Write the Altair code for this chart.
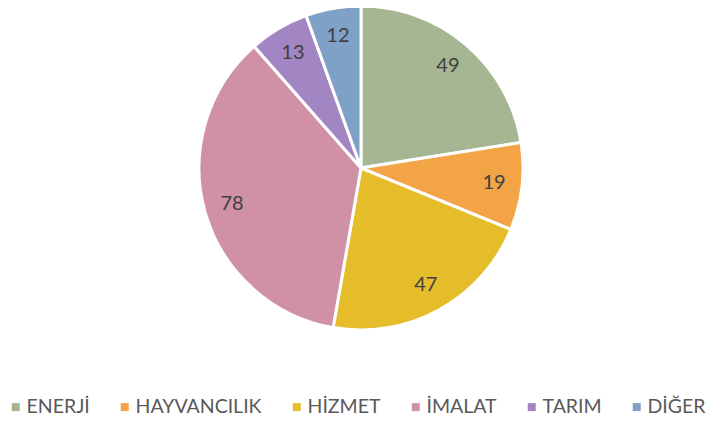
import altair as alt
import pandas as pd

categories = ["ENERJİ", "HAYVANCILIK", "HİZMET", "İMALAT", "TARIM", "DİĞER"]
values = [49, 19, 47, 78, 13, 12]
colors = ["#a6b693", "#f2a447", "#e5bd2b", "#d091a6", "#a285c3", "#7fa0c7"]

df = pd.DataFrame({"cat": categories, "val": values, "idx": list(range(len(values)))})

CX, CY, R = 353, 160, 162

base = alt.Chart(df).encode(
    theta=alt.Theta("val:Q", stack=True),
    order=alt.Order("idx:Q", sort="ascending"),
)

pie = base.mark_arc(outerRadius=R, stroke="white", strokeWidth=3).encode(
    x=alt.value(CX),
    y=alt.value(CY),
    color=alt.Color(
        "cat:N",
        scale=alt.Scale(domain=categories, range=colors),
        sort=categories,
        legend=alt.Legend(
            title=None,
            orient="none",
            direction="horizontal",
            legendX=-2,
            legendY=389,
            symbolType="square",
            symbolSize=64,
            symbolStrokeWidth=0,
            labelFont="Lato",
            labelFontSize=19.5,
            labelColor="#595959",
            labelOffset=1,
            columnPadding=25,
            labelLimit=300,
        ),
    ),
)

labels = base.mark_text(radius=134, font="Lato", fontSize=20, color="#404040").encode(
    x=alt.value(CX),
    y=alt.value(CY),
    text="val:Q",
)

chart = (pie + labels).properties(
    width=708, height=411, autosize="none", padding=0
).configure_view(stroke=None)

chart.save("out.html", embed_options={"renderer": "svg", "actions": False})
